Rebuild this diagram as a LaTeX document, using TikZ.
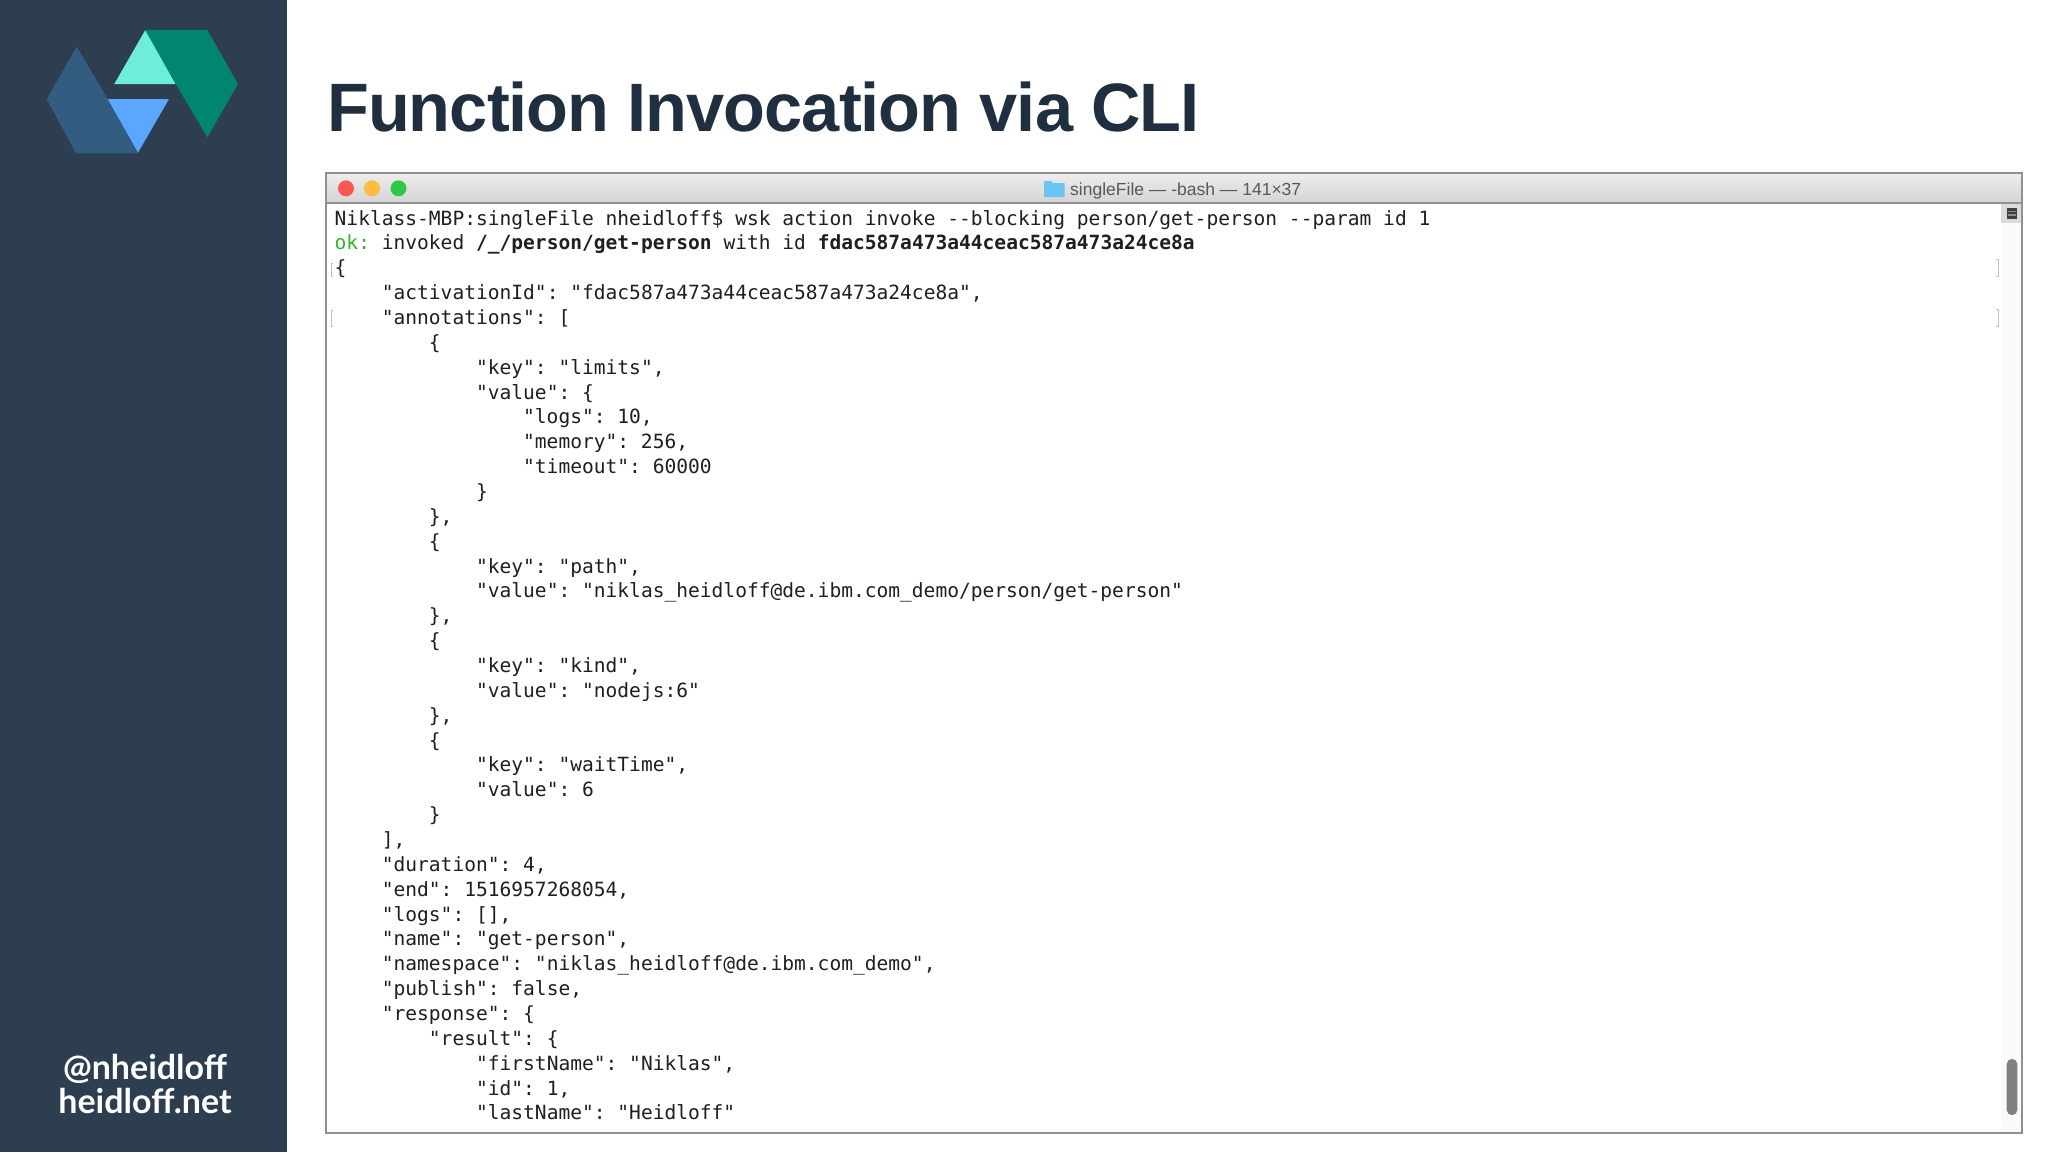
\documentclass[tikz,border=0pt]{standalone}
\usepackage{fontspec}
\usepackage{xcolor}
\setmainfont{Liberation Sans}
\newfontfamily\termfont{DejaVu Sans Mono}
\newfontfamily\handlefont{Lato}
\newfontfamily\titlefont[LetterSpace=-1.4]{Liberation Sans}
\definecolor{sidebar}{HTML}{2C3E50}
\definecolor{titleink}{HTML}{1F2F3F}
\definecolor{logoblue}{HTML}{325C80}
\definecolor{logosky}{HTML}{5AA7FF}
\definecolor{logomint}{HTML}{6EEDD8}
\definecolor{logogreen}{HTML}{008571}
\definecolor{frame}{HTML}{909090}
\definecolor{okgreen}{HTML}{33B52F}
\definecolor{btnred}{HTML}{FC5753}
\definecolor{btnyellow}{HTML}{FDBC40}
\definecolor{btngreen}{HTML}{33C748}
\definecolor{folder}{HTML}{6CC4F0}
\tikzset{
	termline/.style={anchor=base west,inner sep=0pt,text=black!88,font=\termfont\frenchspacing\fontsize{19.57}{24}\selectfont},
	handle/.style={anchor=base,inner sep=0pt,text=white,font=\handlefont\bfseries\fontsize{34}{34}\selectfont},
	dot/.style={circle,minimum size=16pt,inner sep=0pt}
}
\begin{document}
\begin{tikzpicture}[x=1pt,y=-1pt]
	\useasboundingbox (0,0) rectangle (2048,1152);
	% la barre de gauche
	\fill[sidebar] (0,0) rectangle (287,1152);
	\fill[logoblue] (76.7,46.7) -- (46.7,99) -- (76,153.3) -- (137.7,153.3) -- (107.7,99) -- cycle;
	\fill[logosky] (107.7,99) -- (169,99) -- (138,152.7) -- cycle;
	\fill[logomint] (145.3,30) -- (114.3,84) -- (175.7,84) -- cycle;
	\fill[logogreen] (145.3,30) -- (207.3,30) -- (238,84) -- (207.3,137.3) -- (175.7,84) -- cycle;
	\node[handle] (twitter) at (145,1079) {@nheidloff};
	\node[handle] (site) at (145,1113) {heidloff.net};
	% le titre
	\node[anchor=base west,inner sep=0pt,text=titleink,font=\titlefont\bfseries\fontsize{68.5}{70}\selectfont] (title) at (327,131) {Function Invocation via CLI};
	% la fenetre
	\fill[white] (326,173) rectangle (2022,1133);
	\shade[top color=black!7,bottom color=black!17] (326,173) rectangle (2022,203);
	\fill[black!14] (2001,203) rectangle (2021,223);
	\fill[black!2] (2001,223) rectangle (2021,1133);
	\draw[frame,line width=1.5pt] (326,203) -- (2022,203);
	\draw[frame,line width=2pt] (326,173) rectangle (2022,1133);
	\node[dot,fill=btnred] (closebtn) at (346,188.3) {};
	\node[dot,fill=btnyellow] (minbtn) at (372,188.3) {};
	\node[dot,fill=btngreen] (zoombtn) at (398.5,188.3) {};
	\fill[folder] (1044,181) -- (1051,181) -- (1053,183) -- (1064.5,183) -- (1064.5,197) -- (1044,197) -- cycle;
	\node[anchor=base west,inner sep=0pt,text=black!65,font=\fontsize{17.5}{18}\selectfont] (wintitle) at (1070,195) {singleFile --- -bash --- 141×37};
	% ascenseur
	\fill[black!75] (2006.7,207.7) rectangle (2017.3,218.7);
	\draw[black!45,line width=1.5pt] (2008,211.5) -- (2016,211.5) (2008,215) -- (2016,215);
	\fill[black!50,rounded corners=5pt] (2006.7,1059) rectangle (2017.3,1115);
	% les marques
	\draw[black!25] (333,263) -- (331,263) -- (331,276) -- (333,276);
	\draw[black!25] (333,310) -- (331,310) -- (331,326) -- (333,326);
	\draw[black!25] (1996,259) -- (1998,259) -- (1998,276) -- (1996,276);
	\draw[black!25] (1996,309) -- (1998,309) -- (1998,326) -- (1996,326);
	% le texte du terminal
	\foreach \col/\txt [count=\n] in {
		0/{Niklass-MBP:singleFile nheidloff\$ wsk action invoke --blocking person/get-person --param id 1},
		0/{\textcolor{okgreen}{ok:} invoked \textbf{/\_/person/get-person} with id \textbf{fdac587a473a44ceac587a473a24ce8a}},
		0/{\{},
		4/{"activationId": "fdac587a473a44ceac587a473a24ce8a",},
		4/{"annotations": [},
		8/{\{},
		12/{"key": "limits",},
		12/{"value": \{},
		16/{"logs": 10,},
		16/{"memory": 256,},
		16/{"timeout": 60000},
		12/{\}},
		8/{\},},
		8/{\{},
		12/{"key": "path",},
		12/{"value": "niklas\_heidloff@de.ibm.com\_demo/person/get-person"},
		8/{\},},
		8/{\{},
		12/{"key": "kind",},
		12/{"value": "nodejs:6"},
		8/{\},},
		8/{\{},
		12/{"key": "waitTime",},
		12/{"value": 6},
		8/{\}},
		4/{],},
		4/{"duration": 4,},
		4/{"end": 1516957268054,},
		4/{"logs": [],},
		4/{"name": "get-person",},
		4/{"namespace": "niklas\_heidloff@de.ibm.com\_demo",},
		4/{"publish": false,},
		4/{"response": \{},
		8/{"result": \{},
		12/{"firstName": "Niklas",},
		12/{"id": 1,},
		12/{"lastName": "Heidloff"}}
		\node[termline] (line\n) at ({334.5+11.78*\col},{225+24.86*(\n-1)}) {\txt};
\end{tikzpicture}
\end{document}
